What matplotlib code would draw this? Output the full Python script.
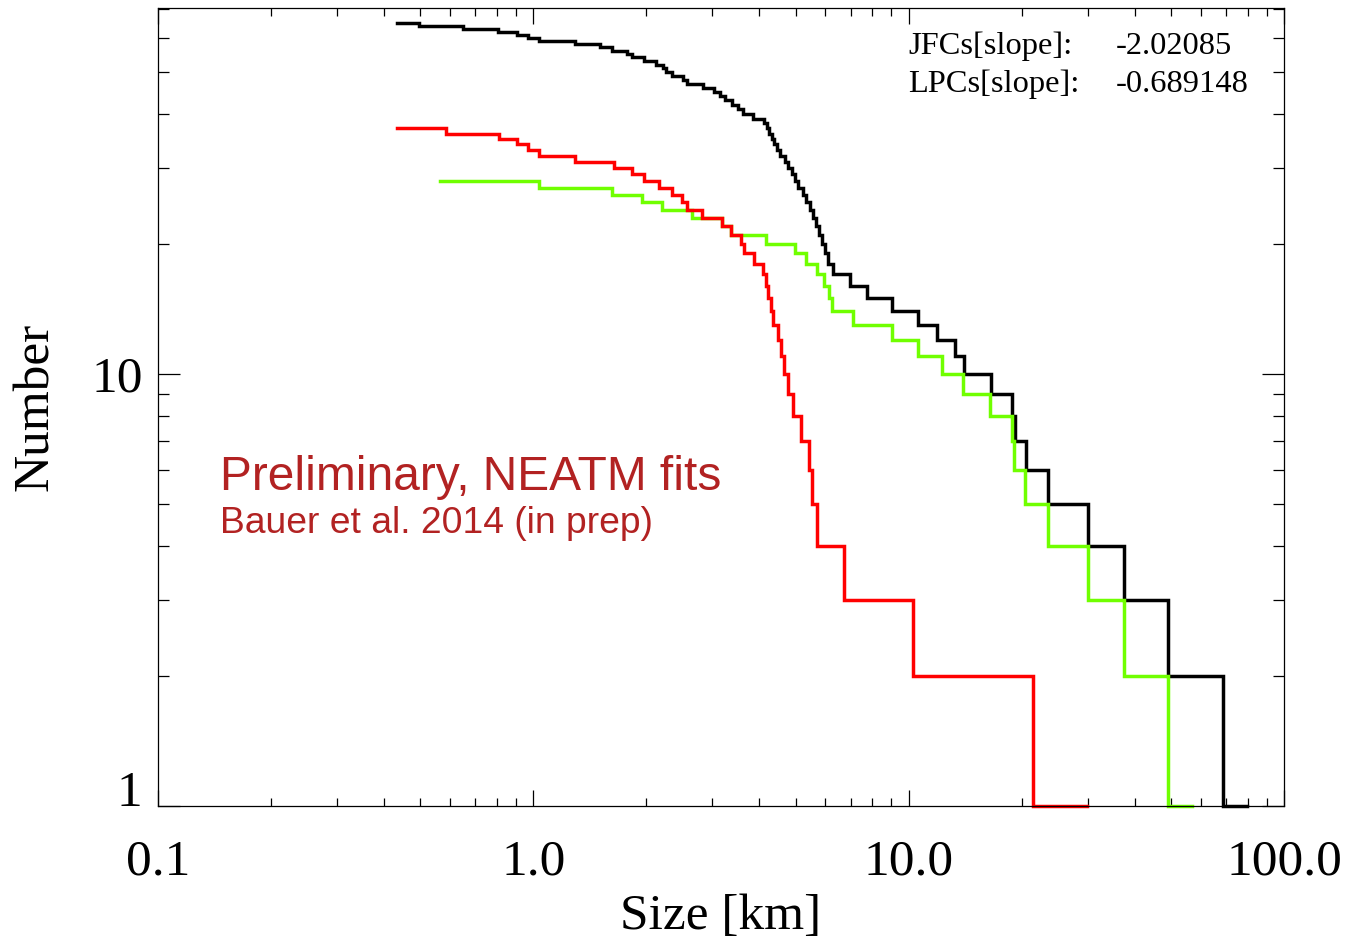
import numpy as np
import matplotlib.pyplot as plt
from matplotlib.ticker import FixedLocator, NullFormatter, LogLocator

# cumulative size distributions: diameters (km) where the count steps down,
# with the first and last entries marking where each curve starts / ends
all_edges_km = [
    0.432, 0.496, 0.650, 0.806, 0.905, 0.965, 1.036, 1.292, 1.504, 1.622,
    1.772, 1.827, 1.974, 2.121, 2.210, 2.255, 2.335, 2.498, 2.560, 2.825,
    3.033, 3.142, 3.239, 3.375, 3.515, 3.625, 3.853, 4.122, 4.183, 4.251,
    4.314, 4.383, 4.457, 4.539, 4.681, 4.777, 4.878, 4.977, 5.079, 5.218,
    5.325, 5.457, 5.559, 5.662, 5.767, 5.874, 5.983, 6.113, 6.272, 6.977,
    7.730, 9.010, 10.61, 11.92, 13.29, 14.07, 16.54, 18.82, 19.20, 20.50,
    23.56, 30.11, 37.56, 49.19, 68.71, 79.88,
]
jfc_edges_km = [
    0.432, 0.587, 0.809, 0.906, 0.966, 1.036, 1.294, 1.644, 1.827, 1.968,
    2.164, 2.339, 2.483, 2.565, 2.816, 3.180, 3.367, 3.569, 3.636, 3.875,
    4.102, 4.158, 4.230, 4.295, 4.362, 4.484, 4.581, 4.667, 4.777, 4.926,
    5.164, 5.424, 5.535, 5.686, 6.725, 10.25, 21.48, 29.92,
]
lpc_edges_km = [
    0.563, 1.034, 1.624, 1.946, 2.196, 2.645, 3.180, 3.360, 4.178, 4.992,
    5.325, 5.686, 5.965, 6.132, 6.246, 7.093, 9.010, 10.61, 12.29, 13.98,
    16.47, 18.82, 19.09, 20.42, 23.51, 30.00, 37.56, 49.01, 57.00,
]

slope_names = ["JFCs[slope]:", "LPCs[slope]:"]
slope_values = ["-2.02085", "-0.689148"]

xtick_vals = [0.1, 1.0, 10.0, 100.0]
xtick_text = ["0.1", "1.0", "10.0", "100.0"]
ytick_vals = [1, 10]
ytick_text = ["1", "10"]


def cumulative(edges):
    # number of objects at least as large as each step
    edges = np.asarray(edges)
    n = np.arange(len(edges) - 1, 0, -1)
    return edges, np.append(n, n[-1])


W, H = 1348, 939
fig = plt.figure(figsize=(W / 100, H / 100), dpi=100)
ax = fig.add_axes([158 / W, 1 - 806 / H, 1126 / W, 798 / H])

serif = "Liberation Serif"
sans = "Liberation Sans"

for edges, color in [(all_edges_km, "black"),
                     (lpc_edges_km, "#70ff00"),
                     (jfc_edges_km, "#ff0000")]:
    x, y = cumulative(edges)
    ax.step(x, y, where="post", color=color, lw=2.5, clip_on=False,
            solid_joinstyle="miter")

ax.set_xscale("log")
ax.set_yscale("log")
ax.set_xlim(0.1, 100)
ax.set_ylim(1, 70.3)

ax.xaxis.set_major_locator(FixedLocator(xtick_vals))
ax.set_xticklabels(xtick_text)
ax.xaxis.set_minor_locator(LogLocator(base=10, subs=np.arange(2, 10)))
ax.xaxis.set_minor_formatter(NullFormatter())
ax.yaxis.set_major_locator(FixedLocator(ytick_vals))
ax.set_yticklabels(ytick_text)
ax.yaxis.set_minor_locator(LogLocator(base=10, subs=np.arange(2, 10)))
ax.yaxis.set_minor_formatter(NullFormatter())

ax.tick_params(axis="x", which="major", direction="in", length=11.5,
               width=0.9, top=True, pad=24)
ax.tick_params(axis="x", which="minor", direction="in", length=5.8,
               width=0.9, top=True)
ax.tick_params(axis="y", which="major", direction="in", length=16,
               width=0.9, right=True, pad=11)
ax.tick_params(axis="y", which="minor", direction="in", length=8,
               width=0.9, right=True)
for lab in ax.get_xticklabels() + ax.get_yticklabels():
    lab.set_fontfamily(serif)
    lab.set_fontsize(37)
ax.yaxis.get_major_ticks()[0].label1.set_va("baseline")

for sp in ax.spines.values():
    sp.set_linewidth(0.9)

fig.text(721 / W, 1 - 929 / H, "Size [km]", family=serif, fontsize=37,
         ha="center", va="baseline")
fig.text(36 / W, 1 - 407 / H, "Number", family=serif, fontsize=37,
         rotation=90, ha="center", va="center")

for i, (name, val) in enumerate(zip(slope_names, slope_values)):
    yb = 1 - (54 + 38 * i) / H
    fig.text(908 / W, yb, name, family=serif, fontsize=23.4, va="baseline")
    fig.text(1116 / W, yb, val, family=serif, fontsize=23.4, va="baseline")

fig.text(220 / W, 1 - 490 / H, "Preliminary, NEATM fits", family=sans,
         fontsize=34.5, color="#b22222", va="baseline")
fig.text(220 / W, 1 - 533 / H, "Bauer et al. 2014 (in prep)", family=sans,
         fontsize=26.8, color="#b22222", va="baseline")

fig.savefig("out.png", dpi=100)
